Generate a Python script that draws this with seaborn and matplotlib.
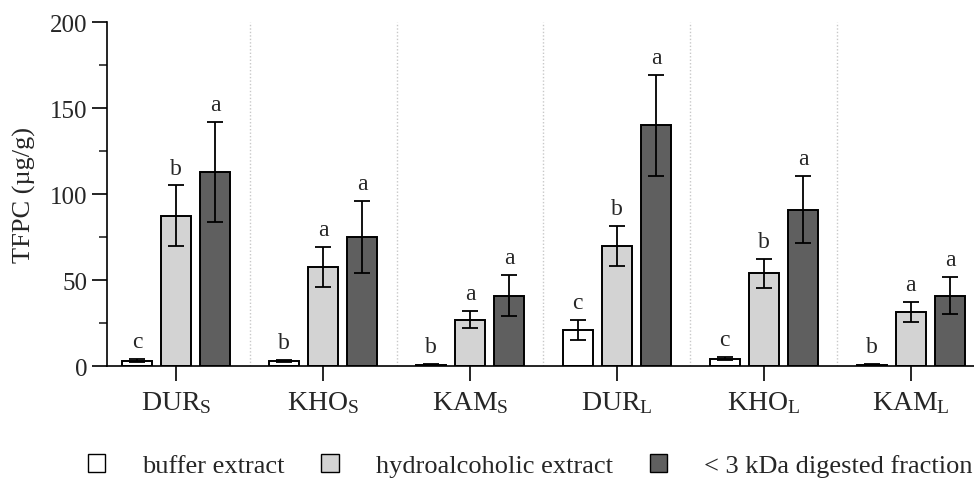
import matplotlib
matplotlib.use("Agg")
import matplotlib.pyplot as plt
import seaborn as sns
import pandas as pd
from matplotlib.patches import Patch

# Datos
groups = ["DUR$_\\mathregular{S}$", "KHO$_\\mathregular{S}$", "KAM$_\\mathregular{S}$",
          "DUR$_\\mathregular{L}$", "KHO$_\\mathregular{L}$", "KAM$_\\mathregular{L}$"]
extracts = ["buffer extract", "hydroalcoholic extract", "< 3 kDa digested fraction"]

buffer_mean = [3.2, 3.1, 0.7, 20.7, 4.3, 0.8]
buffer_err = [0.7, 0.5, 0.3, 5.8, 1.0, 0.4]
hydro_mean = [87.5, 57.7, 27.0, 69.6, 53.8, 31.5]
hydro_err = [17.5, 11.5, 5.0, 11.7, 8.6, 5.7]
frac_mean = [113.0, 75.0, 41.0, 140.0, 91.0, 41.0]
frac_err = [29.0, 20.7, 11.8, 29.3, 19.5, 11.0]

buffer_letters = ["c", "b", "b", "c", "c", "b"]
hydro_letters = ["b", "a", "a", "b", "b", "a"]
frac_letters = ["a", "a", "a", "a", "a", "a"]

colors = ["#ffffff", "#d3d3d3", "#5f5f5f"]

means = [buffer_mean, hydro_mean, frac_mean]
errs = [buffer_err, hydro_err, frac_err]
letters = [buffer_letters, hydro_letters, frac_letters]

rows = []
for ext, vals in zip(extracts, means):
    for g, v in zip(groups, vals):
        rows.append({"group": g, "extract": ext, "TFPC": v})
df = pd.DataFrame(rows)

sns.set_style("ticks")
plt.rcParams["font.family"] = ["Liberation Serif", "DejaVu Serif"]
plt.rcParams["mathtext.default"] = "regular"

fig = plt.figure(figsize=(9.74, 4.81), dpi=100)
ax = fig.add_axes([0.11, 0.237, 0.896, 0.715])

sns.barplot(data=df, x="group", y="TFPC", hue="extract", hue_order=extracts,
            palette=colors, width=0.8, gap=0.23, errorbar=None,
            edgecolor="black", linewidth=1.4, legend=False, ax=ax)

for cont, err, labs in zip(ax.containers, errs, letters):
    for bar, e, lab in zip(cont, err, labs):
        xc = bar.get_x() + bar.get_width() / 2
        h = bar.get_height()
        ax.errorbar(xc, h, yerr=e, color="black", capsize=5.5, elinewidth=1.3,
                    capthick=1.3, zorder=5)
        ax.annotate(lab, (xc, h + e), xytext=(0, 5), textcoords="offset points",
                    ha="center", va="bottom", fontsize=17)

# separadores punteados
for i in range(len(groups) - 1):
    ax.vlines(i + 0.5, 0, 200, colors="#c8c8c8", linestyles=(0, (1, 1.5)), lw=1, zorder=0)

ax.set_xlim(-0.47, 5.47)
ax.set_ylim(0, 200)
ax.set_yticks([0, 50, 100, 150, 200])
ax.set_yticks([25, 75, 125, 175], minor=True)
ax.set_xlabel("")
ax.set_ylabel("TFPC (µg/g)", fontsize=19, labelpad=10)
ax.tick_params(axis="both", which="major", length=11, width=1.2, color="black")
ax.tick_params(axis="y", which="major", labelsize=18)
ax.tick_params(axis="x", which="major", labelsize=20, pad=6)
ax.tick_params(axis="y", which="minor", length=6, width=1.2)
for s in ["top", "right"]:
    ax.spines[s].set_visible(False)
for s in ["left", "bottom"]:
    ax.spines[s].set_linewidth(1.2)
    ax.spines[s].set_color("black")

handles = [Patch(facecolor=c, edgecolor="black", linewidth=1.0) for c in colors]
fig.legend(handles, extracts, loc="center left", bbox_to_anchor=(0.0903, 0.03),
           ncol=3, frameon=False, fontsize=19, handlelength=0.65, handleheight=0.68,
           handletextpad=1.4, columnspacing=1.4, borderpad=0, borderaxespad=0)

fig.savefig("out.png", dpi=100)
